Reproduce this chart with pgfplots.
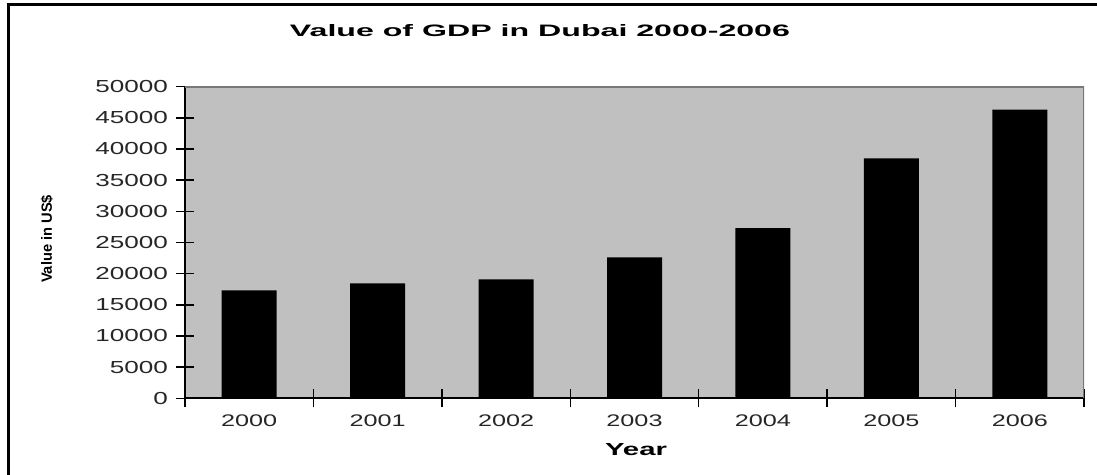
\documentclass[border=0pt]{standalone}
\usepackage{pgfplots}
\pgfplotsset{compat=1.18}
\usepackage{fontspec}
\setmainfont{Liberation Sans}
\usepackage{graphicx}
\definecolor{plotgray}{RGB}{192,192,192}
\definecolor{framegray}{RGB}{120,120,120}
\begin{document}
\begin{tikzpicture}[x=1pt,y=1pt]
\useasboundingbox (0,0) rectangle (548.5,237.5);
\fill[white] (0,0) rectangle (548.5,237.5);
\begin{axis}[
  at={(92.5pt,38.35pt)}, anchor=south west,
  scale only axis, width=449.5pt, height=155.8pt,
  xmin=-0.5, xmax=6.5, ymin=0, ymax=50000,
  axis lines*=left,
  axis line style={black, line width=0.9pt},
  axis background/.style={fill=plotgray},
  scaled y ticks=false,
  ytick={0,5000,...,50000},
  xtick={-0.5,0.5,...,6.5},
  x tick label as interval,
  xticklabels={\scalebox{1.5}[1]{2000},\scalebox{1.5}[1]{2001},\scalebox{1.5}[1]{2002},\scalebox{1.5}[1]{2003},\scalebox{1.5}[1]{2004},\scalebox{1.5}[1]{2005},\scalebox{1.5}[1]{2006}},
  yticklabel={\scalebox{1.5}[1]{\pgfmathprintnumber[assume math mode=true,1000 sep={},fixed]{\tick}}},
  tick align=center,
  major tick length=9pt,
  tick style={black, line width=0.7pt},
  xticklabel style={font=\fontsize{8.4}{10}\selectfont, text=black!85},
  yticklabel style={font=\fontsize{8.7}{10}\selectfont, text=black!85, xshift=-0.5pt},
]
\draw[framegray, line width=1pt] (rel axis cs:0,1) -- (rel axis cs:1,1) -- (rel axis cs:1,0);
\addplot[ybar, bar width=27.5pt, fill=black, draw=none] coordinates {
  (0,17300) (1,18450) (2,19100) (3,22600) (4,27300) (5,38500) (6,46300)};
\end{axis}
\draw[black, line width=1.5pt] (4,0) -- (4,235) -- (548.5,235);
\node at (270,222.4) {\resizebox{250pt}{6pt}{\bfseries Value of GDP in Dubai 2000-2006}};
\node[anchor=base] at (318,9.5) {\resizebox{31pt}{6pt}{\bfseries Year}};
\node[rotate=90] at (23.5,118) {\resizebox{44pt}{5.5pt}{\bfseries Value in US\$}};
\end{tikzpicture}
\end{document}
